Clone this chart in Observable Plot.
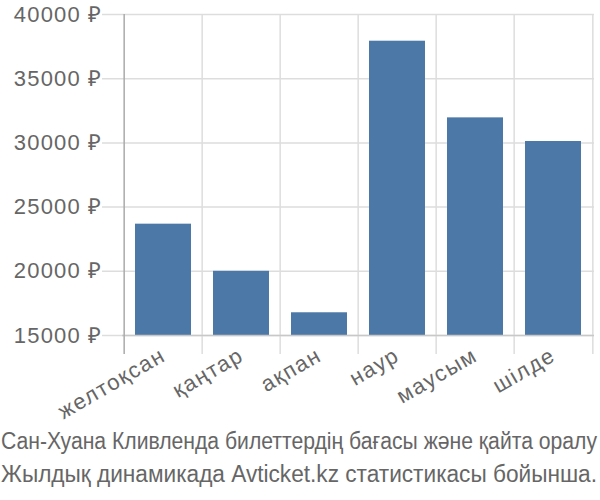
<!DOCTYPE html>
<html>
<head>
<meta charset="utf-8">
<script src="https://cdn.jsdelivr.net/npm/d3@7"></script>
<script src="https://cdn.jsdelivr.net/npm/@observablehq/plot@0.6"></script>
<style>
  body { margin: 0; background: #fff; font-family: "Liberation Sans", Arial, sans-serif; overflow: hidden; }
  #caption { color: #666; font-size: 23px; line-height: 33px; white-space: nowrap; width: 600px; overflow: hidden; }
  #caption span { display: inline-block; transform-origin: 0 50%; padding-left: 1px; }
</style>
</head>
<body>
<div id="chart"></div>
<div id="caption"><div><span>Сан-Хуана Кливленда билеттердің бағасы және қайта оралу</span></div><div><span>Жылдық динамикада Avticket.kz статистикасы бойынша.</span></div></div>
<script>
const categories = ["желтоқсан", "қаңтар", "ақпан", "наур", "маусым", "шілде"];
const prices = [23670, 20000, 16770, 37920, 31950, 30110];
const yTicks = [15000, 20000, 25000, 30000, 35000, 40000];

const data = categories.map((c, i) => ({month: c, price: prices[i]}));

const W = 600, H = 425, mL = 122, mR = 6, mT = 14, mB = 90;
const bw = (W - mL - mR) / categories.length;

const chart = Plot.plot({
  width: W,
  height: H,
  marginLeft: mL,
  marginRight: mR,
  marginTop: mT,
  marginBottom: mB,
  style: {fontFamily: "'Liberation Sans', Arial, sans-serif", fontSize: "22px", color: "#666", background: "#fff"},
  x: {domain: categories, padding: 0},
  y: {domain: [15000, 40000]},
  marks: [
    Plot.ruleY(yTicks, {stroke: "#dddddd", strokeWidth: 1.5, insetLeft: -20}),
    Plot.ruleX(categories.slice(1), {x: d => d, dx: -bw / 2, stroke: "#dddddd", strokeWidth: 1.5, insetBottom: -19}),
    Plot.ruleX(categories.slice(-1), {x: d => d, dx: bw / 2, stroke: "#dddddd", strokeWidth: 1.5, insetBottom: -19}),
    Plot.barY(data, {x: "month", y1: 15000, y2: "price", fill: "#4c78a8", insetLeft: 11, insetRight: 11}),
    Plot.ruleY([15000], {stroke: "#c8c8c8", strokeWidth: 1.5}),
    Plot.ruleX(categories.slice(0, 1), {x: d => d, dx: -bw / 2, stroke: "#aaaaaa", strokeWidth: 1.5, insetBottom: -19}),
    Plot.axisY(yTicks, {tickSize: 0, tickPadding: 20, tickFormat: d => d + " ₽", fill: "#666", fontSize: 22, label: null}),
    Plot.axisX({tickSize: 0, tickPadding: 18, tickRotate: -30, fill: "#666", fontSize: 22, label: null})
  ]
});
chart.querySelectorAll("[aria-label='y-axis tick label'] text").forEach(t => t.style.letterSpacing = "1.2px");
chart.querySelectorAll("[aria-label='x-axis tick label'] text").forEach(t => t.style.letterSpacing = "1.5px");
document.getElementById("chart").appendChild(chart);

// fit each caption line to the page width, as the reference does
document.querySelectorAll("#caption span").forEach(s => {
  const w = s.getBoundingClientRect().width;
  s.style.transform = `scaleX(${597 / w})`;
});
</script>
</body>
</html>
